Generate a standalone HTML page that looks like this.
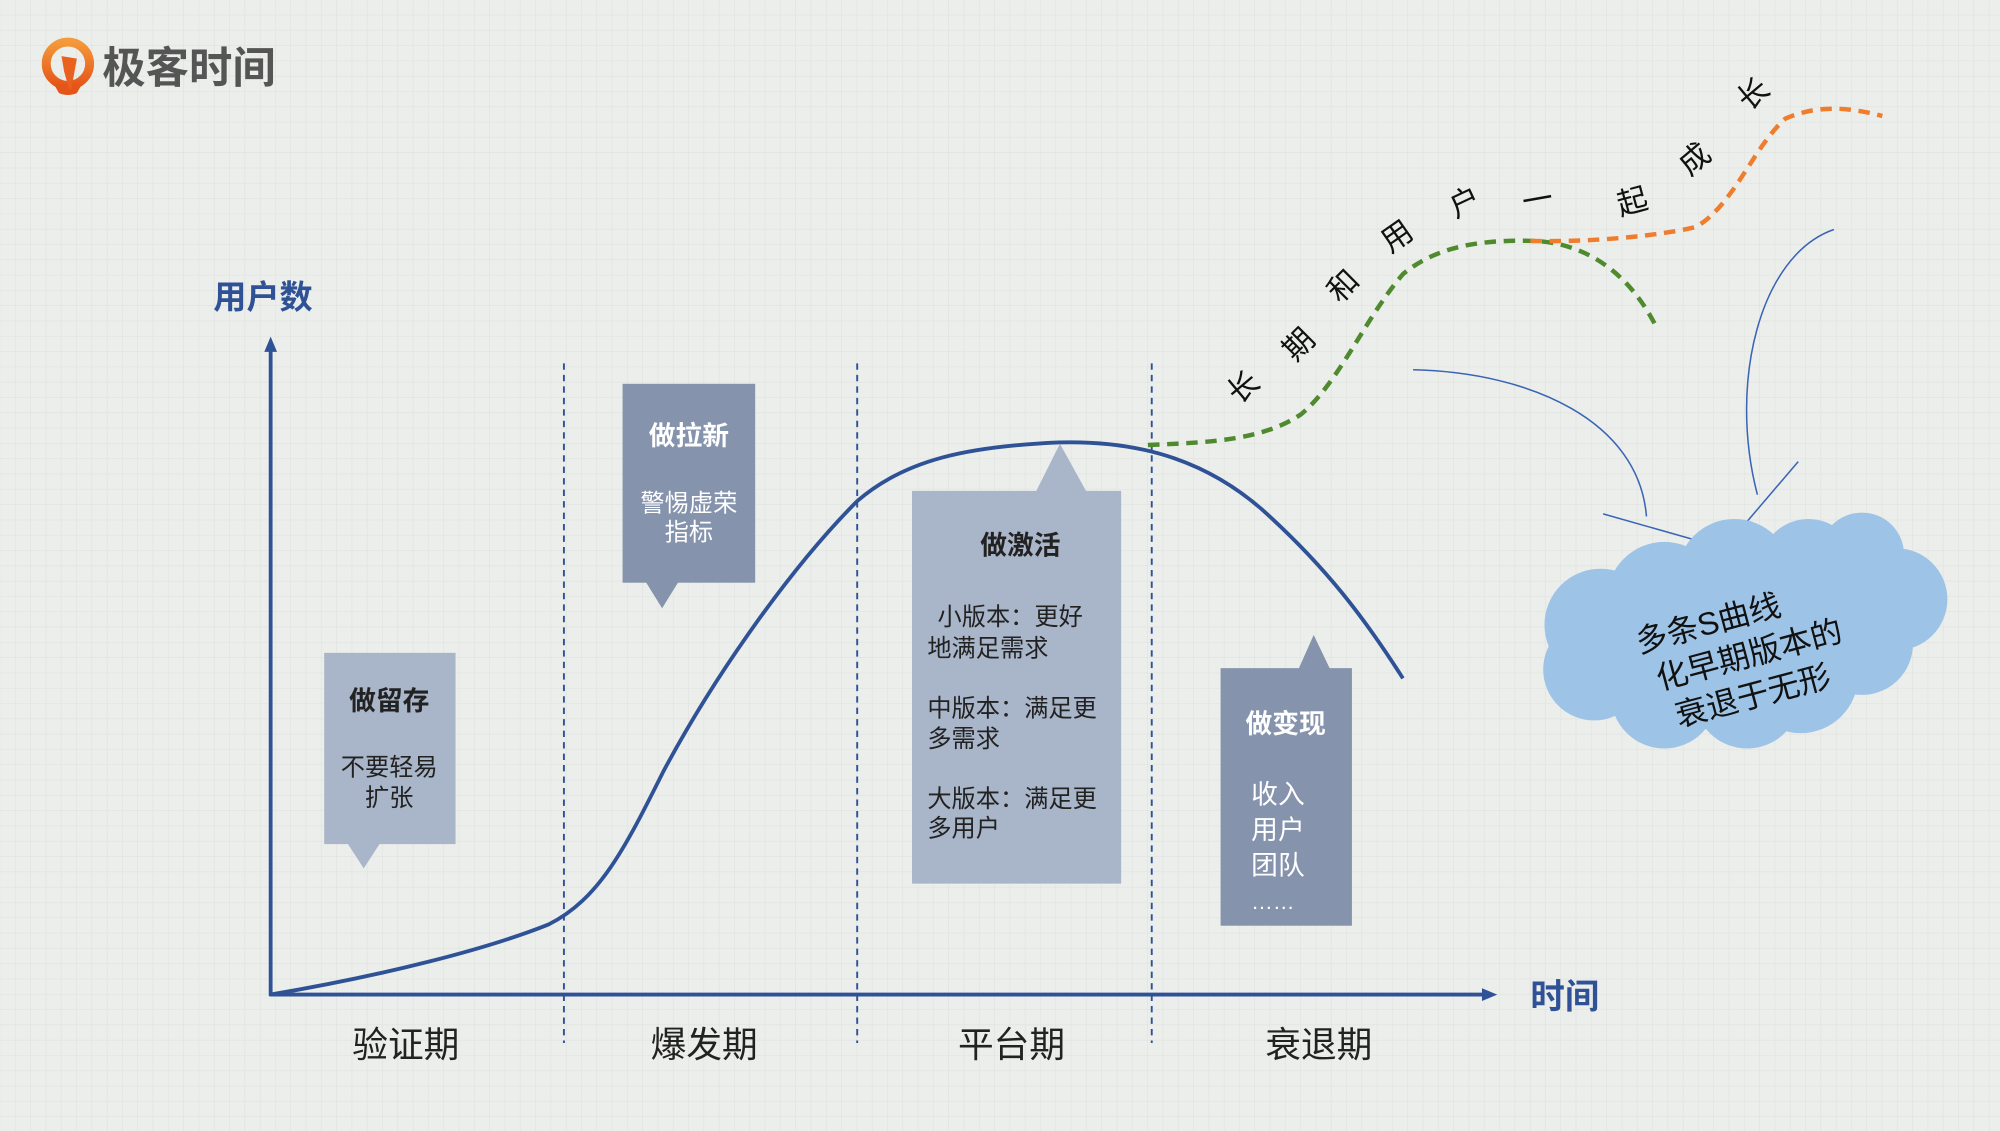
<!DOCTYPE html>
<html><head><meta charset="utf-8"><style>
html,body{margin:0;padding:0;width:2000px;height:1131px;overflow:hidden;background:#eceeeb;}
svg{display:block}
text{font-family:"Liberation Sans","Noto Sans CJK SC",sans-serif;}
</style></head><body>
<svg width="2000" height="1131" viewBox="0 0 1568 887" xmlns="http://www.w3.org/2000/svg">
<defs>
<pattern id="g" width="12" height="12" patternUnits="userSpaceOnUse">
<path d="M12 0V12M0 12H12" stroke="#e0e2df" stroke-width="1" fill="none"/>
</pattern>
<linearGradient id="lg" x1="0" y1="0" x2="0" y2="1"><stop offset="0" stop-color="#f39a3a"/><stop offset="1" stop-color="#e5551a"/></linearGradient>
</defs>
<rect width="1568" height="887" fill="#eceeeb"/>
<rect width="1568" height="887" fill="url(#g)"/>
<!-- logo -->
<circle cx="53" cy="50" r="17" fill="none" stroke="url(#lg)" stroke-width="7"/>
<path d="M48 44 L60 46 L55 74 L50 56 Z" fill="#e8611f"/>
<path d="M42 66 Q53 74 64 66 L60 73 Q53 76 46 73Z" fill="#e5551a"/>
<text x="80" y="65" font-size="34" font-weight="bold" fill="#555">极客时间</text>
<!-- axes -->
<g stroke="#2f5297" stroke-width="3" fill="none">
<line x1="212" y1="781" x2="212" y2="272"/>
<line x1="211" y1="780" x2="1164" y2="780"/>
</g>
<path d="M207 276 L212 264 L217 276Z" fill="#2f5297"/>
<path d="M1162 775 L1174 780 L1162 785Z" fill="#2f5297"/>
<text x="167" y="242" font-size="26" font-weight="bold" fill="#2f5297">用户数</text>
<text x="1200" y="791" font-size="27" font-weight="bold" fill="#2f5297">时间</text>
<g stroke="#2f5297" stroke-width="1.5" stroke-dasharray="5,4">
<line x1="442" y1="285" x2="442" y2="818"/>
<line x1="672" y1="285" x2="672" y2="818"/>
<line x1="903" y1="285" x2="903" y2="818"/>
</g>
<g font-size="28" fill="#222" text-anchor="middle">
<text x="318" y="829">验证期</text>
<text x="552" y="829">爆发期</text>
<text x="793" y="829">平台期</text>
<text x="1034" y="829">衰退期</text>
</g>
<!-- main curve -->
<path d="M212 780 C300 765 380 745 430 725 C470 705 490 665 520 605 C560 530 620 445 672 393 C710 360 760 350 830 347 C900 345 950 365 990 400 C1040 445 1070 485 1100 532" fill="none" stroke="#2f5297" stroke-width="3"/>
<!-- green dashed -->
<path d="M900 349 C950 347 990 345 1020 325 C1050 300 1070 250 1100 215 C1130 190 1170 188 1205 189 C1250 192 1280 220 1298 255" fill="none" stroke="#4f8a2f" stroke-width="3.5" stroke-dasharray="9,6"/>
<!-- orange dashed -->
<path d="M1200 189 C1250 190 1300 185 1330 178 C1360 160 1375 115 1400 93 C1425 82 1450 84 1476 91" fill="none" stroke="#ef7d2e" stroke-width="3.5" stroke-dasharray="9,6"/>
<g font-size="24" fill="#111" text-anchor="middle">
<text transform="translate(980,310) rotate(-40)">长</text>
<text transform="translate(1024,276) rotate(-45)">期</text>
<text transform="translate(1059,230) rotate(-45)">和</text>
<text transform="translate(1100,192) rotate(-35)">用</text>
<text transform="translate(1152,166) rotate(-25)">户</text>
<text transform="translate(1207,165) rotate(-10)">一</text>
<text transform="translate(1282,166) rotate(-15)">起</text>
<text transform="translate(1334,131) rotate(-40)">成</text>
<text transform="translate(1380,80) rotate(-40)">长</text>
</g>
<!-- boxes -->
<rect x="254" y="512" width="103" height="150" fill="#a9b5c8"/>
<path d="M272 661 L298 661 L285 681Z" fill="#a9b5c8"/>
<text x="305" y="557" font-size="21" font-weight="bold" fill="#222" text-anchor="middle">做留存</text>
<text x="305" y="608" font-size="19" fill="#222" text-anchor="middle">不要轻易</text>
<text x="305" y="632" font-size="19" fill="#222" text-anchor="middle">扩张</text>

<rect x="488" y="301" width="104" height="156" fill="#8593ad"/>
<path d="M506 456 L532 456 L519 477Z" fill="#8593ad"/>
<text x="540" y="349" font-size="21" font-weight="bold" fill="#fff" text-anchor="middle">做拉新</text>
<text x="540" y="401" font-size="19" fill="#fff" text-anchor="middle">警惕虚荣</text>
<text x="540" y="424" font-size="19" fill="#fff" text-anchor="middle">指标</text>

<rect x="715" y="385" width="164" height="308" fill="#a9b5c9"/>
<path d="M812 386 L831 348 L852 386Z" fill="#a9b5c9"/>
<text x="800" y="435" font-size="21" font-weight="bold" fill="#222" text-anchor="middle">做激活</text>
<g font-size="19" fill="#222">
<text x="735" y="490">小版本：更好</text>
<text x="727" y="515">地满足需求</text>
<text x="727" y="562">中版本：满足更</text>
<text x="727" y="586">多需求</text>
<text x="727" y="633">大版本：满足更</text>
<text x="727" y="656">多用户</text>
</g>

<rect x="957" y="524" width="103" height="202" fill="#8593ad"/>
<path d="M1018 525 L1030 498 L1043 525Z" fill="#8593ad"/>
<text x="1008" y="575" font-size="21" font-weight="bold" fill="#fff" text-anchor="middle">做变现</text>
<g font-size="21" fill="#fff">
<text x="981" y="630">收入</text>
<text x="981" y="658">用户</text>
<text x="981" y="686">团队</text>
<text x="981" y="713" font-size="17">……</text>
</g>
<!-- thin lines -->
<g stroke="#3a64b5" stroke-width="1.2" fill="none">
<path d="M1108 290 C1200 292 1285 330 1291 405"/>
<path d="M1438 180 C1380 200 1355 300 1378 388"/>
<path d="M1257 403 L1352 430 L1410 362"/>
</g>
<!-- cloud -->
<g fill="#9dc3e6">
<circle cx="1255" cy="490" r="44"/>
<circle cx="1250" cy="525" r="40"/>
<circle cx="1305" cy="545" r="42"/>
<circle cx="1370" cy="545" r="42"/>
<circle cx="1412" cy="530" r="45"/>
<circle cx="1460" cy="505" r="40"/>
<circle cx="1487" cy="470" r="40"/>
<circle cx="1460" cy="435" r="33"/>
<circle cx="1418" cy="445" r="38"/>
<circle cx="1360" cy="452" r="45"/>
<circle cx="1305" cy="470" r="45"/>
<ellipse cx="1370" cy="495" rx="120" ry="60"/>
</g>
<g font-size="25" fill="#111" transform="rotate(-15 1370 500)">
<text x="1285" y="490">多条S曲线</text>
<text x="1293" y="522">化早期版本的</text>
<text x="1300" y="554">衰退于无形</text>
</g>
</svg>
</body></html>
